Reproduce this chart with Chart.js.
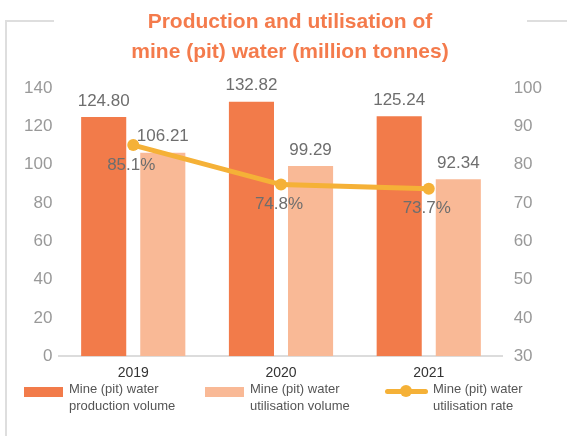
<!DOCTYPE html>
<html>
<head>
<meta charset="utf-8">
<script src="https://cdn.jsdelivr.net/npm/chart.js@4/dist/chart.umd.min.js"></script>
<style>
  html, body { margin: 0; padding: 0; background: #fff; }
  body { width: 567px; height: 436px; position: relative; overflow: hidden; font-family: "Liberation Sans", Arial, sans-serif; }
  #wrap { position: absolute; left: 0; top: 0; width: 567px; height: 436px; }
  .frame { position: absolute; background: #dedede; }
  #title { position: absolute; left: 0; width: 580px; top: 6px; text-align: center; color: #F47B4C; font-weight: bold; font-size: 21px; line-height: 30px; }
  .leg { position: absolute; top: 380px; font-size: 13px; line-height: 17px; color: #555; }
  .sw { position: absolute; }
</style>
</head>
<body>
<div class="frame" style="left:5px; top:20px; width:49px; height:2px;"></div>
<div class="frame" style="left:527px; top:20px; width:40px; height:2px;"></div>
<div class="frame" style="left:5px; top:20px; width:2px; height:416px;"></div>
<div id="wrap"><canvas id="c" width="567" height="436"></canvas></div>
<div id="title">Production and utilisation of<br>mine (pit) water (million tonnes)</div>
<div id="legend"></div>
<script>
const categories = ["2019", "2020", "2021"];
const productionVolume = [124.80, 132.82, 125.24];
const utilisationVolume = [106.21, 99.29, 92.34];
const utilisationRate = [85.1, 74.8, 73.7];
const leftTicks = [0, 140, 20];   // min, max, step
const rightTicks = [30, 100, 10]; // min, max, step
const seriesNames = [
  ["Mine (pit) water", "production volume"],
  ["Mine (pit) water", "utilisation volume"],
  ["Mine (pit) water", "utilisation rate"]
];
const colors = ["rgb(242,123,74)", "rgb(249,185,150)", "rgb(245,177,55)"];

const labelPlugin = {
  id: 'valueLabels',
  afterDatasetsDraw(chart) {
    const ctx = chart.ctx;
    ctx.save();
    ctx.font = '17px "Liberation Sans", Arial, sans-serif';
    ctx.fillStyle = '#6e6e6e';
    ctx.textAlign = 'center';
    ctx.textBaseline = 'middle';
    chart.data.datasets.forEach((ds, i) => {
      const meta = chart.getDatasetMeta(i);
      meta.data.forEach((el, j) => {
        const v = ds.data[j];
        if (ds.type === 'line') {
          ctx.fillText(v.toFixed(1) + '%', el.x - 2, el.y + 20);
        } else {
          ctx.fillText(v.toFixed(2), el.x, el.y - 16);
        }
      });
    });
    ctx.restore();
  }
};

new Chart(document.getElementById('c'), {
  data: {
    labels: categories,
    datasets: [
      { type: 'line', label: seriesNames[2].join(' '), data: utilisationRate, yAxisID: 'y1',
        borderColor: colors[2], backgroundColor: colors[2], borderWidth: 5,
        pointRadius: 6, pointHoverRadius: 6, pointBackgroundColor: colors[2], pointBorderWidth: 0,
        tension: 0, order: 0 },
      { type: 'bar', label: seriesNames[0].join(' '), data: productionVolume, yAxisID: 'y',
        backgroundColor: colors[0], order: 1, categoryPercentage: 0.8, barPercentage: 0.763 },
      { type: 'bar', label: seriesNames[1].join(' '), data: utilisationVolume, yAxisID: 'y',
        backgroundColor: colors[1], order: 1, categoryPercentage: 0.8, barPercentage: 0.763 }
    ]
  },
  options: {
    responsive: false,
    animation: false,
    layout: { padding: { left: 17, right: 14, top: 88, bottom: 45 } },
    plugins: { legend: { display: false }, title: { display: false }, tooltip: { enabled: false } },
    scales: {
      x: {
        grid: { display: false, drawTicks: false },
        border: { display: true, color: '#dcdcdc', width: 2 },
        ticks: { color: '#333', font: { size: 14, family: '"Liberation Sans", Arial, sans-serif' }, padding: 9 }
      },
      y: {
        position: 'left', min: leftTicks[0], max: leftTicks[1],
        grid: { display: false, drawTicks: false },
        border: { display: false },
        ticks: { stepSize: leftTicks[2], color: '#999', padding: 7, font: { size: 17, family: '"Liberation Sans", Arial, sans-serif' } }
      },
      y1: {
        position: 'right', min: rightTicks[0], max: rightTicks[1],
        grid: { display: false, drawTicks: false },
        border: { display: false },
        ticks: { stepSize: rightTicks[2], color: '#999', padding: 11, font: { size: 17, family: '"Liberation Sans", Arial, sans-serif' } }
      }
    }
  },
  plugins: [labelPlugin]
});

// HTML legend (multi-line labels)
const legendPos = [[24, 69], [205, 250], [385, 433]];
const lg = document.getElementById('legend');
seriesNames.forEach((lines, i) => {
  const sw = document.createElement('div');
  sw.className = 'sw';
  if (i < 2) {
    sw.style.cssText = `left:${legendPos[i][0]}px; top:387px; width:39px; height:10px; background:${colors[i]};`;
    lg.appendChild(sw);
  } else {
    sw.style.cssText = `left:${legendPos[i][0]}px; top:389px; width:43px; height:5px; border-radius:3px; background:${colors[i]};`;
    lg.appendChild(sw);
    const dot = document.createElement('div');
    dot.className = 'sw';
    dot.style.cssText = `left:${legendPos[i][0] + 15}px; top:385px; width:12px; height:12px; border-radius:50%; background:${colors[i]};`;
    lg.appendChild(dot);
  }
  const t = document.createElement('div');
  t.className = 'leg';
  t.style.left = legendPos[i][1] + 'px';
  t.innerHTML = lines.join('<br>');
  lg.appendChild(t);
});
</script>
</body>
</html>
